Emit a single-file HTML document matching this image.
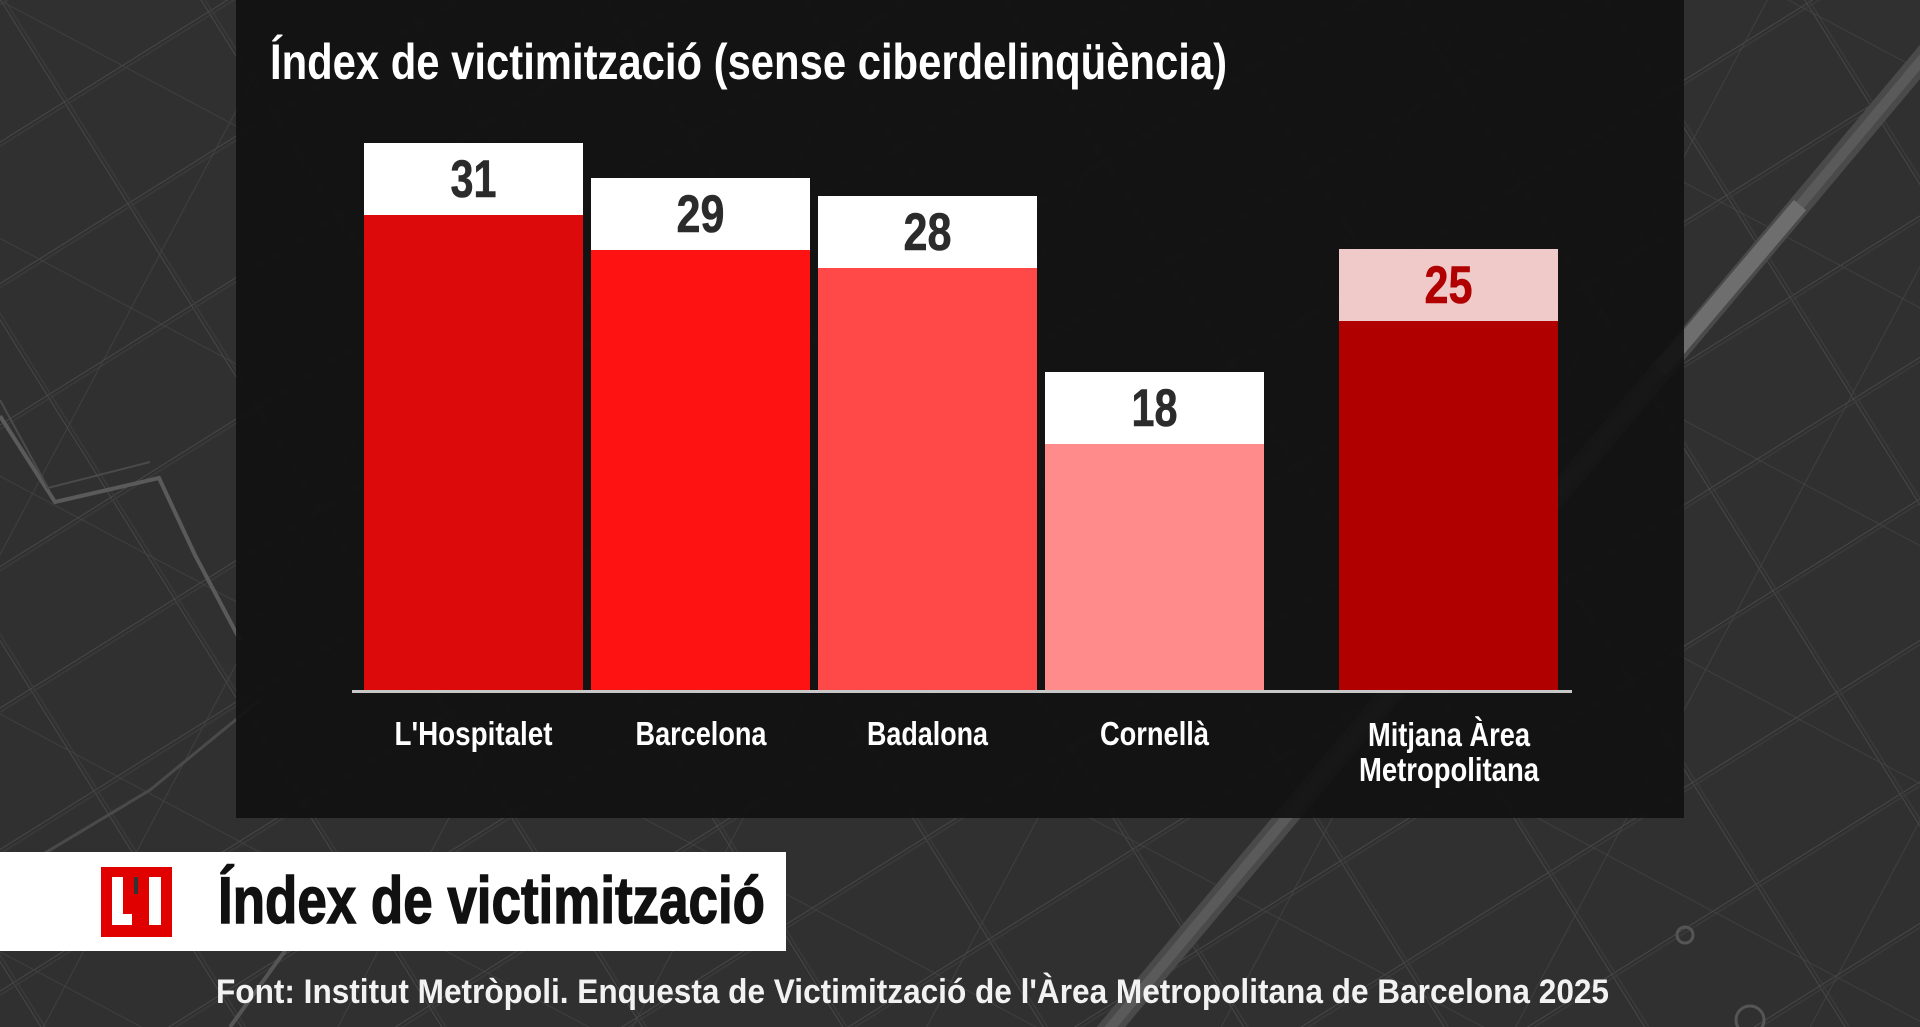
<!DOCTYPE html>
<html><head><meta charset="utf-8"><style>
html,body{margin:0;padding:0;background:#303030;}
svg{display:block;}
text{font-family:"Liberation Sans",Arial,sans-serif;font-weight:bold;}
</style></head><body>
<svg width="1920" height="1027" viewBox="0 0 1920 1027" xmlns="http://www.w3.org/2000/svg">
<defs>
<pattern id="g1" width="170" height="120" patternUnits="userSpaceOnUse" patternTransform="rotate(-32)">
<rect width="170" height="120" fill="none"/>
<path d="M0 0H170M0 0V120" stroke="#474747" stroke-width="2" fill="none"/>
<path d="M0 4H170M4 0V120" stroke="#3a3a3a" stroke-width="1.5" fill="none"/>
</pattern>
<pattern id="g2" width="260" height="210" patternUnits="userSpaceOnUse" patternTransform="rotate(28)">
<path d="M0 0H260M0 0V210" stroke="#434343" stroke-width="1.6" fill="none"/>
</pattern>
</defs>
<rect width="1920" height="1027" fill="#303030"/>
<rect width="1920" height="1027" fill="url(#g1)"/>
<rect width="1920" height="1027" fill="url(#g2)"/>
<!-- main diagonal road / rail -->
<path d="M1100 1040 L1930 50" stroke="#4a4a4a" stroke-width="22" fill="none"/>
<path d="M1100 1040 L1930 50" stroke="#5a5a5a" stroke-width="10" fill="none"/>
<path d="M1660 370 L1800 205" stroke="#6e6e6e" stroke-width="16" fill="none"/>
<!-- left roads -->
<polyline points="0,416 55,502 159,478 195,555 240,640" stroke="#5a5a5a" stroke-width="4" fill="none"/>
<polyline points="0,400 48,488 150,462" stroke="#4a4a4a" stroke-width="2" fill="none"/>
<polyline points="0,880 150,790 260,700" stroke="#4a4a4a" stroke-width="3" fill="none"/>
<polyline points="230,1027 300,930 360,860" stroke="#555" stroke-width="4" fill="none"/>
<circle cx="1750" cy="1020" r="14" stroke="#555" stroke-width="3" fill="none"/>
<circle cx="1685" cy="935" r="8" stroke="#555" stroke-width="3" fill="none"/>

<!-- dark panel -->
<rect x="236" y="0" width="1448" height="818" fill="#111" fill-opacity="0.92"/>

<!-- title -->
<text x="270" y="79" font-size="50" fill="#fff" textLength="957" lengthAdjust="spacingAndGlyphs">Índex de victimització (sense ciberdelinqüència)</text>

<!-- bars -->
<rect x="364" y="215" width="219" height="475" fill="#dc0a0a"/>
<rect x="364" y="143" width="219" height="72" fill="#fff"/>
<text x="473.5" y="197" font-size="53" fill="#2b2b2b" stroke="#2b2b2b" stroke-width="0.6" text-anchor="middle" textLength="46" lengthAdjust="spacingAndGlyphs">31</text>

<rect x="591" y="250" width="219" height="440" fill="#ff1212"/>
<rect x="591" y="178" width="219" height="72" fill="#fff"/>
<text x="700.5" y="232" font-size="53" fill="#2b2b2b" stroke="#2b2b2b" stroke-width="0.6" text-anchor="middle" textLength="48" lengthAdjust="spacingAndGlyphs">29</text>

<rect x="818" y="268" width="219" height="422" fill="#ff4848"/>
<rect x="818" y="196" width="219" height="72" fill="#fff"/>
<text x="927.5" y="250" font-size="53" fill="#2b2b2b" stroke="#2b2b2b" stroke-width="0.6" text-anchor="middle" textLength="48" lengthAdjust="spacingAndGlyphs">28</text>

<rect x="1045" y="444" width="219" height="246" fill="#ff8b8b"/>
<rect x="1045" y="372" width="219" height="72" fill="#fff"/>
<text x="1154.5" y="426" font-size="53" fill="#2b2b2b" stroke="#2b2b2b" stroke-width="0.6" text-anchor="middle" textLength="46" lengthAdjust="spacingAndGlyphs">18</text>

<rect x="1339" y="321" width="219" height="369" fill="#b00000"/>
<rect x="1339" y="249" width="219" height="72" fill="#f0c9c9"/>
<text x="1448.5" y="303" font-size="53" fill="#b00000" stroke="#b00000" stroke-width="0.6" text-anchor="middle" textLength="48" lengthAdjust="spacingAndGlyphs">25</text>

<!-- baseline -->
<rect x="352" y="690" width="1220" height="3" fill="#c8c8c8"/>

<!-- labels -->
<text x="473.5" y="745" font-size="33" fill="#fff" text-anchor="middle" textLength="158" lengthAdjust="spacingAndGlyphs">L'Hospitalet</text>
<text x="701" y="745" font-size="33" fill="#fff" text-anchor="middle" textLength="131" lengthAdjust="spacingAndGlyphs">Barcelona</text>
<text x="927.5" y="745" font-size="33" fill="#fff" text-anchor="middle" textLength="121" lengthAdjust="spacingAndGlyphs">Badalona</text>
<text x="1154.5" y="745" font-size="33" fill="#fff" text-anchor="middle" textLength="109" lengthAdjust="spacingAndGlyphs">Cornellà</text>
<text x="1449" y="746" font-size="33" fill="#fff" text-anchor="middle" textLength="162" lengthAdjust="spacingAndGlyphs">Mitjana Àrea</text>
<text x="1449" y="781" font-size="33" fill="#fff" text-anchor="middle" textLength="180" lengthAdjust="spacingAndGlyphs">Metropolitana</text>

<!-- bottom banner -->
<rect x="0" y="852" width="786" height="99" fill="#fff"/>
<rect x="101" y="867" width="71" height="70" fill="#e00000"/>
<rect x="112" y="877" width="11" height="48" fill="#fff"/>
<rect x="112" y="914" width="20" height="11" fill="#fff"/>
<rect x="149" y="877" width="12" height="48" fill="#fff"/>
<rect x="134" y="877" width="4" height="17" fill="#333"/>
<text x="218" y="923" font-size="66" fill="#111" stroke="#111" stroke-width="1.4" textLength="547" lengthAdjust="spacingAndGlyphs">Índex de victimització</text>

<!-- source -->
<text x="216" y="1003" font-size="34" fill="#f2f2f2" textLength="1393" lengthAdjust="spacingAndGlyphs">Font: Institut Metròpoli. Enquesta de Victimització de l'Àrea Metropolitana de Barcelona 2025</text>
</svg>
</body></html>
